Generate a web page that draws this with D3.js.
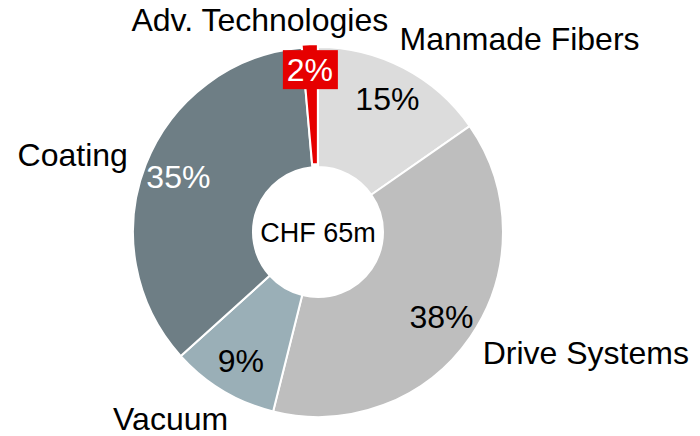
<!DOCTYPE html>
<html>
<head>
<meta charset="utf-8">
<script src="https://cdn.jsdelivr.net/npm/d3@7"></script>
<style>
  body { margin: 0; background: #fff; }
  svg { display: block; font-family: "Liberation Sans", Arial, sans-serif; }
</style>
</head>
<body>
<div id="chart"></div>
<script>
// segments, clockwise from 12 o'clock
var segments = ["Manmade Fibers", "Drive Systems", "Vacuum", "Coating", "Adv. Technologies"];
var shares = [15.3, 38.6, 9.4, 35.3, 1.4];
var pctLabels = ["15%", "38%", "9%", "35%", "2%"];
var totalLabel = "CHF 65m";

var width = 700, height = 436;
var cx = 318, cy = 232;
var outerR = 185, innerR = 65;

var colors = d3.scaleOrdinal()
  .domain(segments)
  .range(["#dcdcdc", "#bebebe", "#9aafb7", "#6e7e85", "#e60000"]);

// colour of the % text inside each slice
var pctColor = { "Coating": "#fff", "Adv. Technologies": "#fff" };

// nudges for the outside category labels (relative to a point on r=200)
var labelNudge = {
  "Manmade Fibers":    { dx: -11, dy: -5, anchor: "start" },
  "Drive Systems":     { dx: 0,   dy: 19, anchor: "start" },
  "Vacuum":            { dx: 13,  dy: 26, anchor: "end" },
  "Coating":           { dx: -4,  dy: 7,  anchor: "end" },
  "Adv. Technologies": { dx: 79,  dy: -1, anchor: "end" }
};

var data = segments.map(function (s, i) { return { name: s, value: shares[i], pct: pctLabels[i] }; });

var svg = d3.select("#chart").append("svg")
  .attr("width", width)
  .attr("height", height);

var g = svg.append("g")
  .attr("transform", "translate(" + cx + "," + cy + ")");

var pie = d3.pie()
  .sort(null)
  .value(function (d) { return d.value; })
  .startAngle(0)
  .endAngle(2 * Math.PI);

var arc = d3.arc().innerRadius(innerR).outerRadius(outerR);
var arcs = pie(data);

function midAngle(d) { return (d.startAngle + d.endAngle) / 2; }
function polar(r, a) { return [r * Math.sin(a), -r * Math.cos(a)]; }

// slices (the red one is pulled out a little)
g.selectAll("path.slice")
  .data(arcs)
  .enter().append("path")
  .attr("class", "slice")
  .attr("d", arc)
  .attr("transform", function (d) {
    if (d.data.name !== "Adv. Technologies") return null;
    var p = polar(3, midAngle(d));
    return "translate(" + p[0] + "," + p[1] + ")";
  })
  .attr("fill", function (d) { return colors(d.data.name); })
  .attr("stroke", "#fff")
  .attr("stroke-width", 2);

// centre text
g.append("text")
  .attr("text-anchor", "middle")
  .attr("y", 10)
  .attr("font-size", 27)
  .attr("fill", "#000")
  .text(totalLabel);

// red call-out box for the small slice
var small = arcs.filter(function (d) { return d.data.name === "Adv. Technologies"; });
var boxes = g.selectAll("g.callout")
  .data(small)
  .enter().append("g")
  .attr("class", "callout")
  .attr("transform", function (d) {
    var p = polar(162, midAngle(d));
    return "translate(" + p[0] + "," + p[1] + ")";
  });
boxes.append("rect")
  .attr("x", -28).attr("y", -20)
  .attr("width", 55).attr("height", 39)
  .attr("fill", function (d) { return colors(d.data.name); });

// percentage labels
g.selectAll("text.pct")
  .data(arcs)
  .enter().append("text")
  .attr("class", "pct")
  .attr("text-anchor", "middle")
  .attr("x", function (d) {
    var r = d.data.name === "Adv. Technologies" ? 162 : 150;
    return polar(r, midAngle(d))[0] + (d.data.name === "Adv. Technologies" ? -1 : 0);
  })
  .attr("y", function (d) {
    var r = d.data.name === "Adv. Technologies" ? 162 : 150;
    return polar(r, midAngle(d))[1] + 11;
  })
  .attr("font-size", 32)
  .attr("fill", function (d) { return pctColor[d.data.name] || "#000"; })
  .text(function (d) { return d.data.pct; });

// category labels outside the ring
g.selectAll("text.cat")
  .data(arcs)
  .enter().append("text")
  .attr("class", "cat")
  .attr("text-anchor", function (d) { return labelNudge[d.data.name].anchor; })
  .attr("x", function (d) { return polar(200, midAngle(d))[0] + labelNudge[d.data.name].dx; })
  .attr("y", function (d) { return polar(200, midAngle(d))[1] + labelNudge[d.data.name].dy; })
  .attr("font-size", 32)
  .attr("fill", "#000")
  .text(function (d) { return d.data.name; });
</script>
</body>
</html>
